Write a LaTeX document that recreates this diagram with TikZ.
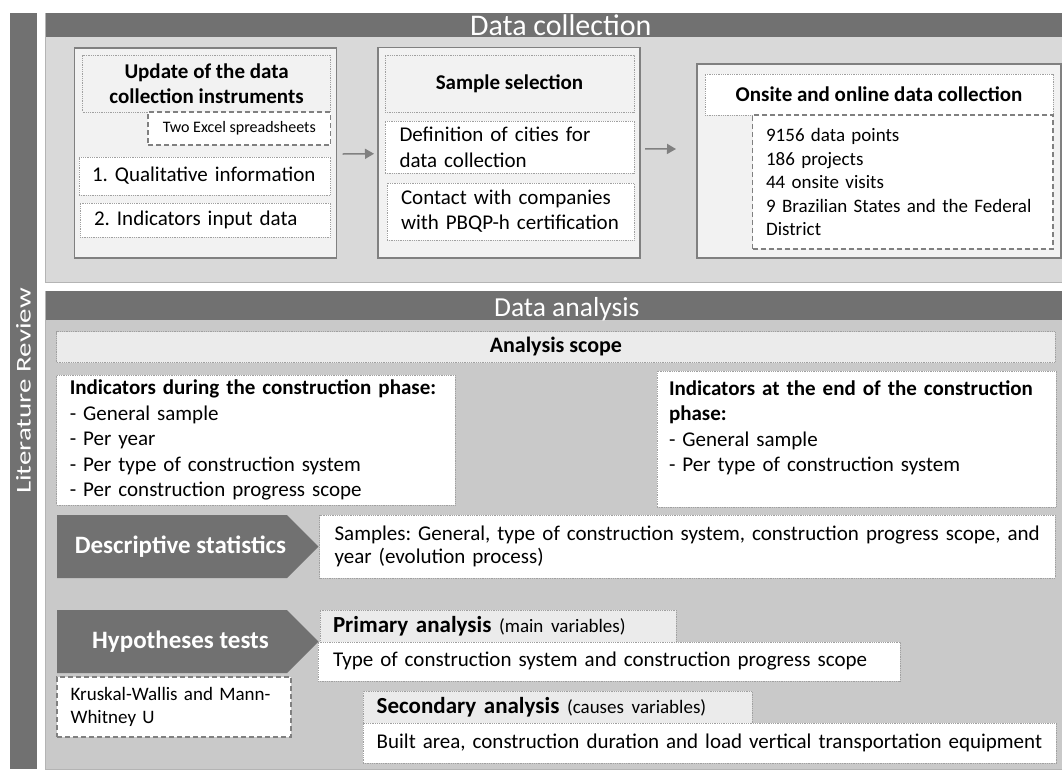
\documentclass[tikz,border=0pt]{standalone}
\usepackage{fontspec}
\setmainfont{Carlito}
\usepackage{graphicx}
\usetikzlibrary{arrows.meta,shapes.symbols}

\definecolor{bardark}{HTML}{717171}
\definecolor{toppanel}{HTML}{D9D9D9}
\definecolor{botpanel}{HTML}{C9C9C9}
\definecolor{panelline}{HTML}{B4B4B4}
\definecolor{boxfill}{HTML}{F2F2F2}
\definecolor{headfill}{HTML}{EBEBEB}
\definecolor{boxline}{HTML}{808080}
\definecolor{dotline}{HTML}{A0A0A0}

\tikzset{
  at nw/.style={anchor=north west, inner sep=0pt, outer sep=0pt},
  panelbox/.style={at nw, draw=panelline, line width=1pt},
  headbar/.style={at nw, fill=bardark, text=white, inner ysep=2pt},
  stagebox/.style={at nw, fill=boxfill, draw=boxline, line width=1.3pt},
  dotbox/.style={at nw, fill=white, draw=dotline, densely dotted, line width=0.8pt},
  headbox/.style={dotbox, fill=headfill},
  dashbox/.style={at nw, fill=white, draw=boxline, dash pattern=on 5pt off 3pt, line width=1.1pt},
  tagshape/.style={signal, signal to=east, signal from=nowhere, signal pointer angle=90,
    fill=bardark, text=white, anchor=west, inner sep=0pt, outer sep=0pt,
    minimum width=261.5pt, minimum height=63pt, font=\fontsize{25}{28}\selectfont\bfseries},
  flow/.style={draw=boxline, line width=1.5pt, -{Triangle[length=9pt,width=10pt]}},
  txt/.style={font=\fontsize{21}{25.6}\selectfont}
}

\begin{document}
\frenchspacing
\begin{tikzpicture}[x=1pt, y=-1pt]
\useasboundingbox (0,0) rectangle (1062,769);

% literature review bar
\node[fill=bardark, text=white, rotate=90, inner sep=0pt, minimum width=756pt, minimum height=27pt,
  font=\fontsize{21}{22}\selectfont] (litbar) at (23.5,391) {\scalebox{1.38}[1]{Literature Review}\hspace{18pt}};

% data collection
\node[panelbox, fill=toppanel, minimum width=1016.5pt, minimum height=269pt] (dcpanel) at (45.5,13) {};
\node[headbar, minimum width=1016.5pt, minimum height=24pt, text height=20pt, text depth=0pt,
  font=\fontsize{30}{32}\selectfont] (dchead) at (45.5,13) {\hspace*{14pt}Data collection};

\node[stagebox, minimum width=262pt, minimum height=210pt] (upd) at (74.7,48) {};
\node[headbox, fill=boxfill, minimum width=248pt, minimum height=57pt, align=center,
  font=\fontsize{21}{25}\selectfont\bfseries] (updhead) at (82.6,55) {Update of the data\\collection instruments};
\node[dashbox, minimum width=182.6pt, minimum height=33pt, font=\fontsize{16}{18}\selectfont] (xls) at (148,112) {Two Excel spreadsheets};
\node[dotbox, txt, minimum width=251.6pt, minimum height=38pt, inner xsep=13pt, text width=225.6pt, align=left] (qual) at (79,157) {1. Qualitative information};
\node[dotbox, txt, minimum width=250.6pt, minimum height=34pt, inner xsep=14pt, text width=222.6pt, align=left] (indin) at (80,203) {2. Indicators input data};

\node[stagebox, minimum width=262pt, minimum height=210.5pt] (smp) at (378,47.5) {};
\node[headbox, fill=boxfill, minimum width=249pt, minimum height=57pt,
  font=\fontsize{21}{25}\selectfont\bfseries] (smphead) at (385,55) {Sample selection};
\node[dotbox, minimum width=249pt, minimum height=52pt, inner xsep=14.5pt, text width=220pt, align=left,
  font=\fontsize{21}{26}\selectfont] (cities) at (385,121) {Definition of cities for\\data collection};
\node[dotbox, minimum width=247pt, minimum height=57pt, inner xsep=14pt, text width=219pt, align=left,
  font=\fontsize{21}{25}\selectfont] (contact) at (387,183) {Contact with companies\\with PBQP-h certification};

\node[stagebox, minimum width=364pt, minimum height=194pt] (ons) at (697,64) {};
\node[dotbox, minimum width=348pt, minimum height=41pt,
  font=\fontsize{21}{25}\selectfont\bfseries] (onshead) at (705,74) {Onsite and online data collection};
\node[dashbox, minimum width=300.4pt, minimum height=134pt, inner xsep=13.5pt, text width=273.4pt, align=left,
  font=\fontsize{19}{23.5}\selectfont] (onslist) at (752.6,115)
  {9156 data points\\186 projects\\44 onsite visits\\9 Brazilian States and the Federal\\District};

\draw[flow] ([xshift=6pt,yshift=-1pt]upd.east) -- ([xshift=-4pt,yshift=-1pt]smp.west);
\draw[flow] ([xshift=5pt,yshift=4pt]smp.east) -- ([xshift=-21pt,yshift=12pt]ons.west);

% data analysis
\node[panelbox, fill=botpanel, minimum width=1016.5pt, minimum height=478pt] (dapanel) at (45.5,291) {};
\node[headbar, minimum width=1016.5pt, minimum height=29pt, inner ysep=3pt, text height=22pt, text depth=1pt,
  font=\fontsize{27.5}{30}\selectfont] (dahead) at (45.5,291) {\hspace*{26pt}Data analysis};

\node[headbox, minimum width=998.2pt, minimum height=31pt,
  font=\fontsize{22}{25}\selectfont\bfseries] (scope) at (56.8,331.5) {Analysis scope};

\node[dotbox, minimum width=398.2pt, minimum height=130pt, inner xsep=13pt, text width=372.2pt, align=left,
  font=\fontsize{21}{25.5}\selectfont] (during) at (56.8,375)
  {\textbf{Indicators during the construction phase:}\\- General sample\\- Per year\\- Per type of construction system\\- Per construction progress scope};
\node[dotbox, minimum width=399pt, minimum height=136pt, inner xsep=12pt, text width=375pt, align=left,
  font=\fontsize{21}{25.5}\selectfont] (atend) at (657,371)
  {\makebox[372pt][s]{\bfseries Indicators at the end of the construction}\\\textbf{phase:}\\- General sample\\- Per type of construction system\\\mbox{}};

\node[tagshape] (desc) at (57,546.5) {\hspace*{17pt}Descriptive statistics};
\node[dotbox, minimum width=735.4pt, minimum height=63pt, inner xsep=15pt, text width=705.4pt, align=left,
  font=\fontsize{21}{23}\selectfont] (samples) at (319.6,515)
  {Samples: General, type of construction system, construction progress scope, and\\year (evolution process)};

\node[tagshape] (hyp) at (57,641.5) {\hspace*{17pt}Hypotheses tests};
\node[dashbox, minimum width=234pt, minimum height=60pt, inner xsep=13.6pt, text width=206.8pt, align=left,
  font=\fontsize{19}{23.3}\selectfont] (kw) at (57,677) {Kruskal-Wallis and Mann-\\Whitney U};

\node[headbox, minimum width=356pt, minimum height=32pt, inner xsep=13pt, text width=330pt, align=left,
  font=\fontsize{23}{26}\selectfont] (prim) at (320,610)
  {\textbf{Primary analysis} {\fontsize{19}{22}\selectfont(main variables)}};
\node[dotbox, txt, minimum width=582pt, minimum height=39pt, inner xsep=15pt, text width=552pt, align=left] (primtxt) at (318,642)
  {Type of construction system and construction progress scope};
\node[headbox, minimum width=389pt, minimum height=32pt, inner xsep=13.7pt, text width=361.6pt, align=left,
  font=\fontsize{23}{26}\selectfont] (sec) at (363,691)
  {\textbf{Secondary analysis} {\fontsize{19}{22}\selectfont(causes variables)}};
\node[dotbox, txt, minimum width=693pt, minimum height=40pt, inner xsep=13.7pt, text width=665.6pt, align=left] (sectxt) at (363,723)
  {Built area, construction duration and load vertical transportation equipment};

\end{tikzpicture}
\end{document}
